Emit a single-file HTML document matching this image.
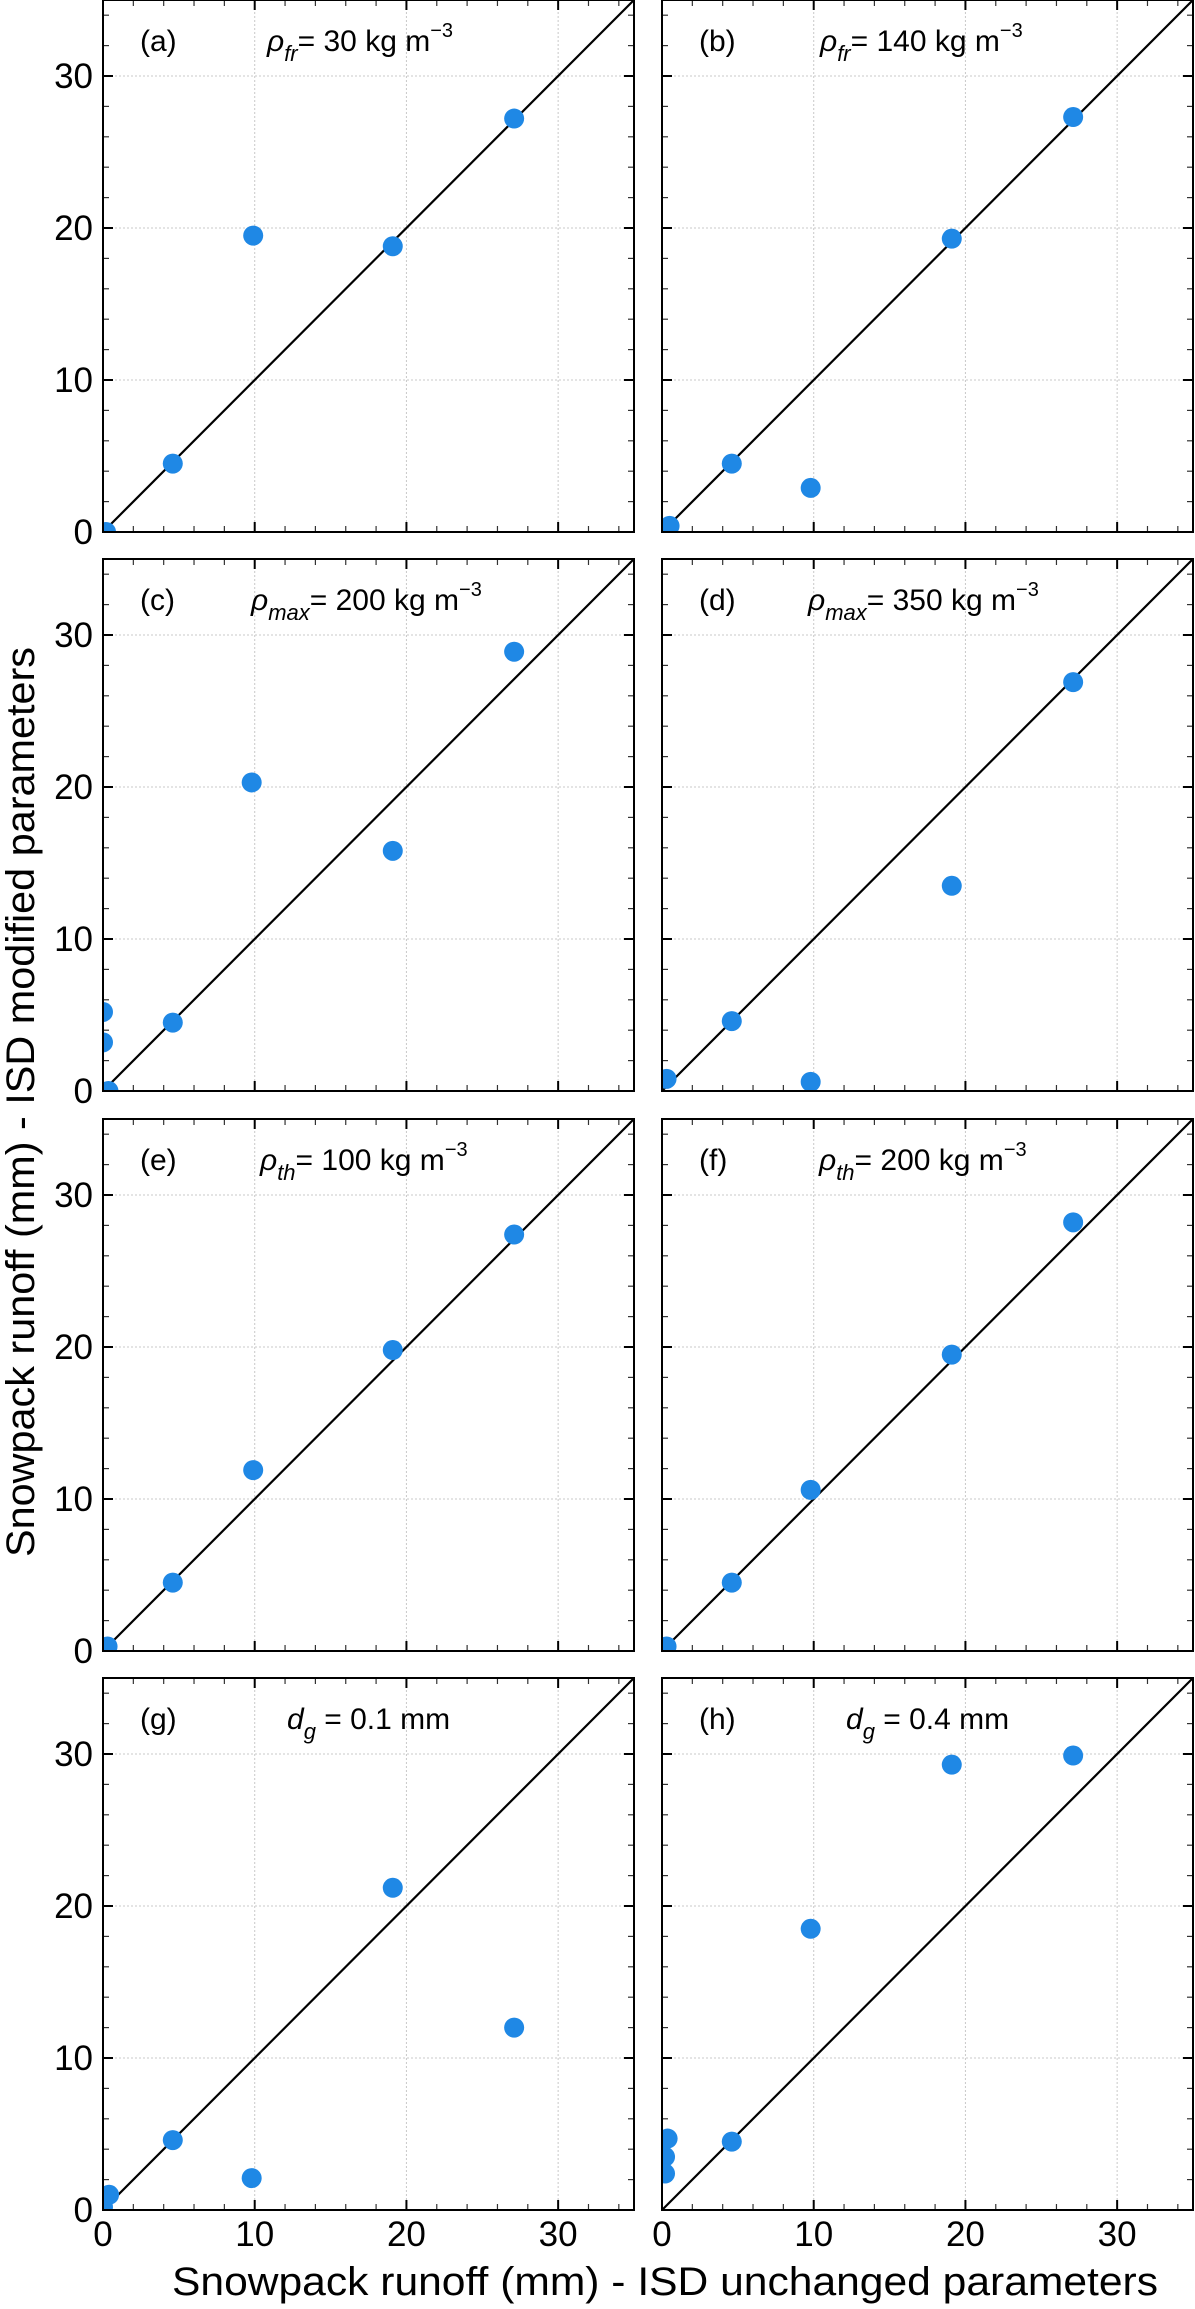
<!DOCTYPE html>
<html><head><meta charset="utf-8"><style>
html,body{margin:0;padding:0;background:#fff;}
svg{display:block;font-family:"Liberation Sans",sans-serif;}
</style></head><body>
<svg id="fig" width="1195" height="2309" viewBox="0 0 1195 2309" xmlns="http://www.w3.org/2000/svg">
<text x="665" y="2295" font-size="40" text-anchor="middle" textLength="986" lengthAdjust="spacingAndGlyphs">Snowpack runoff (mm) - ISD unchanged parameters</text>
<text transform="translate(34,1102) rotate(-90)" font-size="40" text-anchor="middle" textLength="910" lengthAdjust="spacingAndGlyphs">Snowpack runoff (mm) - ISD modified parameters</text>
</svg>
<script>
const xTicks = [0, 10, 20, 30];
const yTicks = [0, 10, 20, 30];
const panelIds = ['a','b','c','d','e','f','g','h'];
const xA = [0.2, 4.6, 9.9, 19.1, 27.1];
const yA = [0, 4.5, 19.5, 18.8, 27.2];
const xB = [0.5, 4.6, 9.8, 19.1, 27.1];
const yB = [0.4, 4.5, 2.9, 19.3, 27.3];
const xC = [0, 0, 0.36, 4.6, 9.8, 19.1, 27.1];
const yC = [5.2, 3.2, 0, 4.5, 20.3, 15.8, 28.9];
const xD = [0.3, 4.6, 9.8, 19.1, 27.1];
const yD = [0.8, 4.6, 0.6, 13.5, 26.9];
const xE = [0.3, 4.6, 9.9, 19.1, 27.1];
const yE = [0.3, 4.5, 11.9, 19.8, 27.4];
const xF = [0.3, 4.6, 9.8, 19.1, 27.1];
const yF = [0.3, 4.5, 10.6, 19.5, 28.2];
const xG = [0, 0.4, 4.6, 9.8, 19.1, 27.1];
const yG = [0.2, 1.0, 4.6, 2.1, 21.2, 12.0];
const xH = [0.37, 0.2, 0.2, 4.6, 9.8, 19.1, 27.1];
const yH = [4.7, 3.5, 2.4, 4.5, 18.5, 29.3, 29.9];
const xs = [xA,xB,xC,xD,xE,xF,xG,xH];
const ys = [yA,yB,yC,yD,yE,yF,yG,yH];
const subs = ['fr','fr','max','max','th','th','g','g'];
const vals = ['30 kg m','140 kg m','200 kg m','350 kg m','100 kg m','200 kg m','0.1 mm','0.4 mm'];

const NS = 'http://www.w3.org/2000/svg';
const svg = document.getElementById('fig');
const colL = [103, 662], rowT = [0, 559, 1119, 1678];
const W = 531, H = 532, DMAX = 35;
const titleOff = [164,158,148,146,157,157,184,184];
function mk(tag, attrs, parent){const e=document.createElementNS(NS,tag);for(const k in attrs)e.setAttribute(k,attrs[k]);(parent||svg).appendChild(e);return e;}

for (let p=0;p<8;p++){
  const L = colL[p%2], T = rowT[Math.floor(p/2)], B = T+H, R = L+W;
  const sx = v => L + v/DMAX*W;
  const sy = v => B - v/DMAX*H;
  const g = mk('g',{});
  
  
  const cp = mk('clipPath',{id:'cp'+p},g);
  mk('rect',{x:L,y:T,width:W,height:H},cp);
  // grid
  for (const t of xTicks){ if(t===0)continue;
    const gl = mk('line',{x1:sx(t),x2:sx(t),y1:T,y2:B,stroke:'#c8c8c8','stroke-width':1,'stroke-dasharray':'2,2'},g);
     
  }
  for (const t of yTicks){ if(t===0)continue;
    const gl = mk('line',{x1:L,x2:R,y1:sy(t),y2:sy(t),stroke:'#c8c8c8','stroke-width':1,'stroke-dasharray':'2,2'},g);
     
  }
  // ticks every 2 units, major every 10
  for (let v=0; v<=DMAX; v+=2){
    const len = 6;
    mk('line',{x1:sx(v),x2:sx(v),y1:B,y2:B-len,stroke:'#333','stroke-width':1.2},g);
    mk('line',{x1:sx(v),x2:sx(v),y1:T,y2:T+len,stroke:'#333','stroke-width':1.2},g);
    mk('line',{x1:L,x2:L+len,y1:sy(v),y2:sy(v),stroke:'#333','stroke-width':1.2},g);
    mk('line',{x1:R,x2:R-len,y1:sy(v),y2:sy(v),stroke:'#333','stroke-width':1.2},g);
  }
  for (const t of xTicks){
    mk('line',{x1:sx(t),x2:sx(t),y1:B,y2:B-10,stroke:'#000','stroke-width':2},g);
    mk('line',{x1:sx(t),x2:sx(t),y1:T,y2:T+10,stroke:'#000','stroke-width':2},g);
    mk('line',{x1:L,x2:L+10,y1:sy(t),y2:sy(t),stroke:'#000','stroke-width':2},g);
    mk('line',{x1:R,x2:R-10,y1:sy(t),y2:sy(t),stroke:'#000','stroke-width':2},g);
  }
  // 1:1 line
  const ln = mk('line',{x1:sx(0),y1:sy(0),x2:sx(DMAX),y2:sy(DMAX),stroke:'#000','stroke-width':2.2,'clip-path':'url(#cp'+p+')'},g);
   
  // points
  const X = xs[p], Y = ys[p];
  for (let i=0;i<X.length;i++){
    const c = mk('circle',{cx:sx(X[i]),cy:sy(Y[i]),r:10,fill:'#1f88e5','clip-path':'url(#cp'+p+')'},g);
    
    
  }
  // frame
  const fr = mk('rect',{x:L,y:T,width:W,height:H,fill:'none',stroke:'#000','stroke-width':2},g);
   
  // panel label
  const pl = mk('text',{x:L+37,y:T+51,'font-size':30},g);
  pl.textContent = '('+panelIds[p]+')';
   
  // title
  const tt = mk('text',{x:L+titleOff[p],y:T+51,'font-size':30},g);
   
  const isD = subs[p]==='g';
  const s1 = mk('tspan',{'font-style':'italic'},tt); s1.textContent = isD ? 'd' : 'ρ';
  const s2 = mk('tspan',{'font-style':'italic','font-size':22,dy:10},tt); s2.textContent = subs[p];
  const s3 = mk('tspan',{dy:-10},tt); s3.textContent = (isD?' = ':'= ')+vals[p];
  if(!isD){ const s4 = mk('tspan',{'font-size':20,dy:-14},tt); s4.textContent = '−3'; }
  // y tick labels on left column
  if (p%2===0){
    for (const t of yTicks){
      const tl = mk('text',{x:L-10,y:sy(t)+12,'font-size':35,'text-anchor':'end'},g);
      tl.textContent = t;
       
    }
  }
  if (p>=6){
    for (const t of xTicks){
      const tl = mk('text',{x:sx(t),y:B+36,'font-size':35,'text-anchor':'middle'},g);
      tl.textContent = t;
       
    }
  }
}
</script>
</body></html>
